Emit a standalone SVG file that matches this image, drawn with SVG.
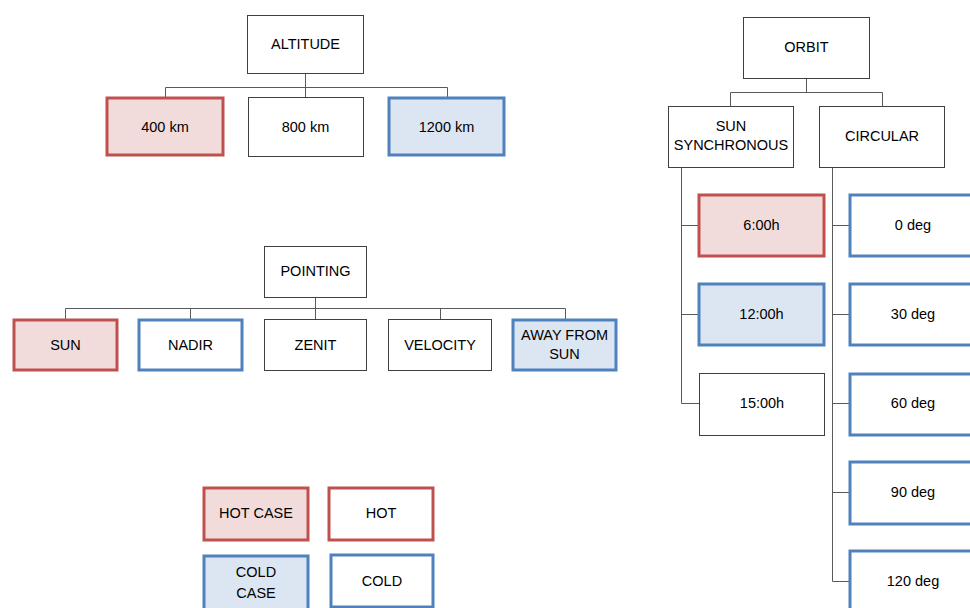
<svg xmlns="http://www.w3.org/2000/svg" width="970" height="608" viewBox="0 0 970 608">
<style>
rect{stroke-linejoin:miter}
.n{fill:#fff;stroke:#404040;stroke-width:1}
.hot{fill:#F2DCDB;stroke:#C0504D;stroke-width:3}
.hotw{fill:#fff;stroke:#C0504D;stroke-width:3}
.cold{fill:#DCE6F2;stroke:#4F81BD;stroke-width:3}
.coldw{fill:#fff;stroke:#4F81BD;stroke-width:3}
text{font-family:"Liberation Sans",Arial,sans-serif;font-size:14.5px;fill:#000;text-anchor:middle;dominant-baseline:central}
.c{fill:none;stroke:#595959;stroke-width:1}
</style>
<rect width="970" height="608" fill="#fff"/>
<g id="connectors">
<path class="c" d="M305.5 73V97M165.5 97V87.5H447.5V97"/>
<path class="c" d="M315.5 297V319M65.5 319V308.5H565.5V319M190.5 308.5V319M440.5 308.5V319"/>
<path class="c" d="M806.5 78V92.5M730.5 106V92.5H882.5V106"/>
<path class="c" d="M681.5 167V403.5H699M681.5 225.5H698M681.5 314.5H698"/>
<path class="c" d="M832.5 167V581.5H849M832.5 225.5H849M832.5 314.5H849M832.5 403.5H849M832.5 492.5H849"/>
</g>
<g id="altitude"><rect class="n" x="247.5" y="15.5" width="116" height="58"/><text x="305.5" y="44">ALTITUDE</text></g>
<g id="alt400"><rect class="hot" x="107" y="98" width="116" height="57"/><text x="165" y="126.5">400 km</text></g>
<g id="alt800"><rect class="n" x="248.5" y="97.5" width="115" height="59"/><text x="305.5" y="126.5">800 km</text></g>
<g id="alt1200"><rect class="cold" x="389" y="98" width="115" height="57"/><text x="446.5" y="126.5">1200 km</text></g>
<g id="pointing"><rect class="n" x="264.5" y="246.5" width="102" height="51"/><text x="315.5" y="271">POINTING</text></g>
<g id="sun"><rect class="hot" x="14" y="320" width="103" height="50"/><text x="65.5" y="344.5">SUN</text></g>
<g id="nadir"><rect class="coldw" x="139" y="320" width="103" height="50"/><text x="190.5" y="344.5">NADIR</text></g>
<g id="zenit"><rect class="n" x="264.5" y="319.5" width="102" height="51"/><text x="315.5" y="344.5">ZENIT</text></g>
<g id="velocity"><rect class="n" x="388.5" y="319.5" width="103" height="51"/><text x="440" y="344.5">VELOCITY</text></g>
<g id="away"><rect class="cold" x="513" y="320" width="103" height="50"/><text x="564.5" y="334.5">AWAY FROM</text><text x="564.5" y="353.5">SUN</text></g>
<g id="orbit"><rect class="n" x="743.5" y="17.5" width="126" height="61"/><text x="806.5" y="47">ORBIT</text></g>
<g id="sunsync"><rect class="n" x="668.5" y="106.5" width="125" height="61"/><text x="731" y="126">SUN</text><text x="731" y="145">SYNCHRONOUS</text></g>
<g id="circular"><rect class="n" x="819.5" y="106.5" width="125" height="61"/><text x="882" y="136">CIRCULAR</text></g>
<g id="t600"><rect class="hot" x="699" y="195" width="125" height="61"/><text x="761.5" y="225">6:00h</text></g>
<g id="t1200"><rect class="cold" x="699" y="284" width="125" height="61"/><text x="761.5" y="314">12:00h</text></g>
<g id="t1500"><rect class="n" x="699.5" y="373.5" width="125" height="62"/><text x="762" y="403">15:00h</text></g>
<g id="d0"><rect class="coldw" x="850" y="195" width="127" height="61"/><text x="913" y="225">0 deg</text></g>
<g id="d30"><rect class="coldw" x="850" y="284" width="127" height="61"/><text x="913" y="314">30 deg</text></g>
<g id="d60"><rect class="coldw" x="850" y="374" width="127" height="61"/><text x="913" y="403">60 deg</text></g>
<g id="d90"><rect class="coldw" x="850" y="462" width="127" height="62"/><text x="913" y="492">90 deg</text></g>
<g id="d120"><rect class="coldw" x="850" y="551" width="127" height="62"/><text x="913" y="581">120 deg</text></g>
<g id="hotcase"><rect class="hot" x="204" y="488" width="104" height="52"/><text x="256" y="513">HOT CASE</text></g>
<g id="hotlegend"><rect class="hotw" x="329" y="488" width="104" height="52"/><text x="381" y="513">HOT</text></g>
<g id="coldcase"><rect class="cold" x="204" y="556" width="104" height="56"/><text x="256" y="572">COLD</text><text x="256" y="593">CASE</text></g>
<g id="coldlegend"><rect class="coldw" x="331" y="555" width="102" height="52"/><text x="382" y="581">COLD</text></g>
</svg>
